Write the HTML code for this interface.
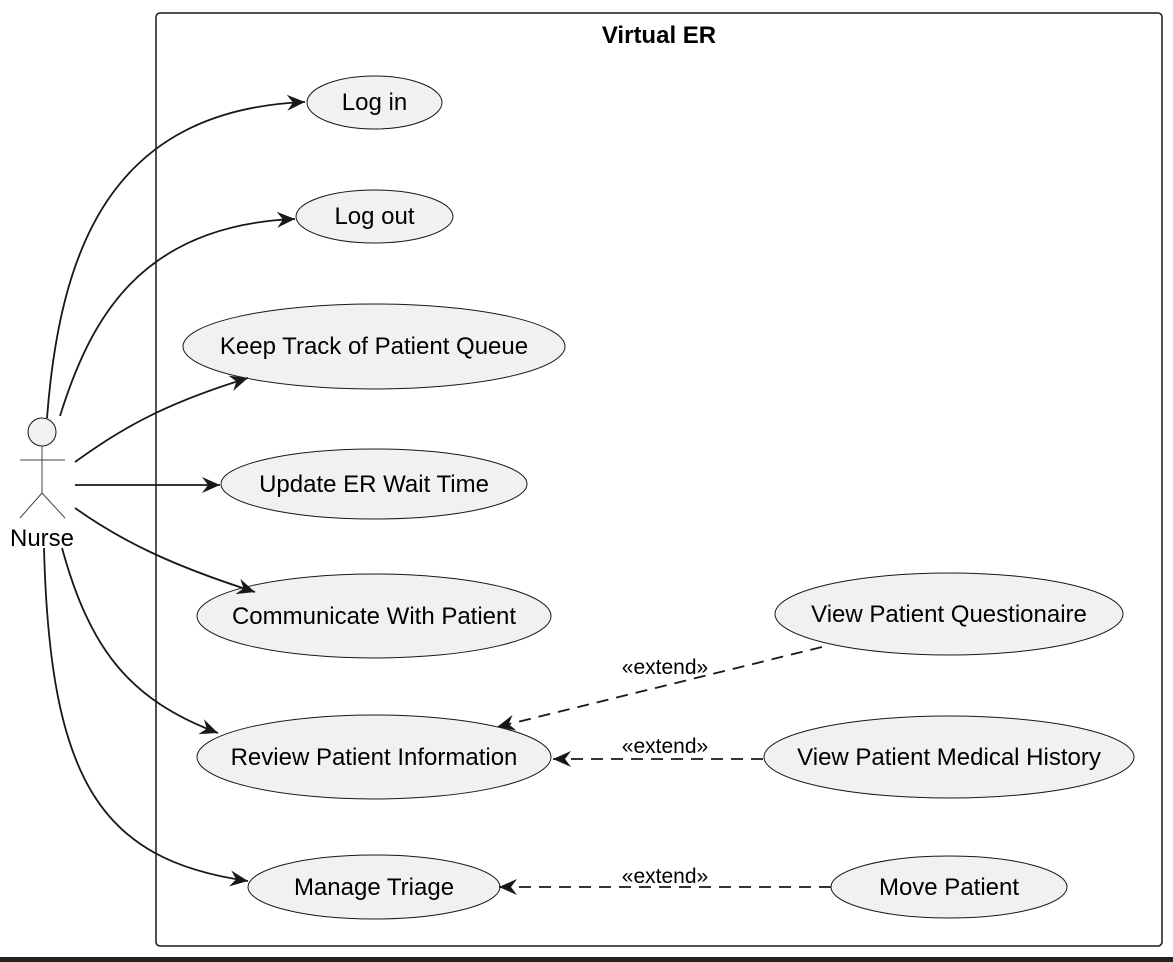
<!DOCTYPE html>
<html><head><meta charset="utf-8"><style>
html,body{margin:0;padding:0;background:#fff;}
svg{display:block;}
text{font-family:"Liberation Sans",Arial,sans-serif;fill:#000;}
</style></head><body>
<svg width="1173" height="962" viewBox="0 0 1173 962" xmlns="http://www.w3.org/2000/svg">
<defs>
<marker id="ar" markerWidth="22" markerHeight="18" refX="19" refY="9" orient="auto" markerUnits="userSpaceOnUse">
<path d="M1,1 L19,9 L1,17 L7,9 Z" fill="#181818"/>
</marker>
</defs>
<rect x="0" y="0" width="1173" height="962" fill="#fff"/>
<rect x="0" y="957" width="1173" height="5" fill="#222"/>
<rect x="156" y="13" width="1006" height="933" rx="4" fill="#fff" stroke="#181818" stroke-width="1.5"/>
<text x="659" y="43" font-size="24" font-weight="bold" text-anchor="middle">Virtual ER</text>

<!-- actor -->
<g stroke="#444" stroke-width="1" fill="none">
<circle cx="42" cy="432" r="14" fill="#f1f1f1" stroke="#181818"/>
<line x1="20" y1="460" x2="65" y2="460"/>
<line x1="42" y1="446" x2="42" y2="493"/>
<line x1="42" y1="493" x2="20" y2="518"/>
<line x1="42" y1="493" x2="65" y2="518"/>
</g>
<text x="42" y="546" font-size="24" text-anchor="middle">Nurse</text>

<!-- ellipses -->
<g fill="#f1f1f1" stroke="#181818" stroke-width="1">
<ellipse cx="374.5" cy="102.5" rx="67.5" ry="26.5"/>
<ellipse cx="374.5" cy="216.5" rx="78.5" ry="26.5"/>
<ellipse cx="374" cy="346.5" rx="191" ry="42.5"/>
<ellipse cx="374" cy="484" rx="153" ry="35"/>
<ellipse cx="374" cy="616" rx="177" ry="42"/>
<ellipse cx="374" cy="757" rx="177" ry="42"/>
<ellipse cx="374" cy="887" rx="126" ry="32"/>
<ellipse cx="949" cy="614" rx="174" ry="41"/>
<ellipse cx="949" cy="757" rx="185" ry="41"/>
<ellipse cx="949" cy="887" rx="118" ry="31"/>
</g>
<g font-size="24" text-anchor="middle">
<text x="374.5" y="110">Log in</text>
<text x="374.5" y="224">Log out</text>
<text x="374" y="354">Keep Track of Patient Queue</text>
<text x="374" y="492">Update ER Wait Time</text>
<text x="374" y="624">Communicate With Patient</text>
<text x="374" y="765">Review Patient Information</text>
<text x="374" y="895">Manage Triage</text>
<text x="949" y="622">View Patient Questionaire</text>
<text x="949" y="765">View Patient Medical History</text>
<text x="949" y="895">Move Patient</text>
</g>

<!-- actor connectors -->
<g fill="none" stroke="#181818" stroke-width="1.8" marker-end="url(#ar)">
<path d="M47,418 C60,250 110,110 305,102"/>
<path d="M60,416 C90,320 140,225 295,219"/>
<path d="M75,462 C120,430 160,405 248,378"/>
<path d="M75,485 L220,485"/>
<path d="M75,508 C120,540 170,565 255,592"/>
<path d="M62,548 C90,650 130,700 218,733"/>
<path d="M44,548 C50,780 100,860 248,881"/>
</g>

<!-- extend -->
<g fill="none" stroke="#181818" stroke-width="1.8" stroke-dasharray="12,8" marker-end="url(#ar)">
<path d="M822,647 L497,727"/>
<path d="M763,759 L553,759"/>
<path d="M831,887 L499,887"/>
</g>
<g font-size="21" text-anchor="middle">
<text x="665" y="674">«extend»</text>
<text x="665" y="753">«extend»</text>
<text x="665" y="883">«extend»</text>
</g>
</svg>
</body></html>
